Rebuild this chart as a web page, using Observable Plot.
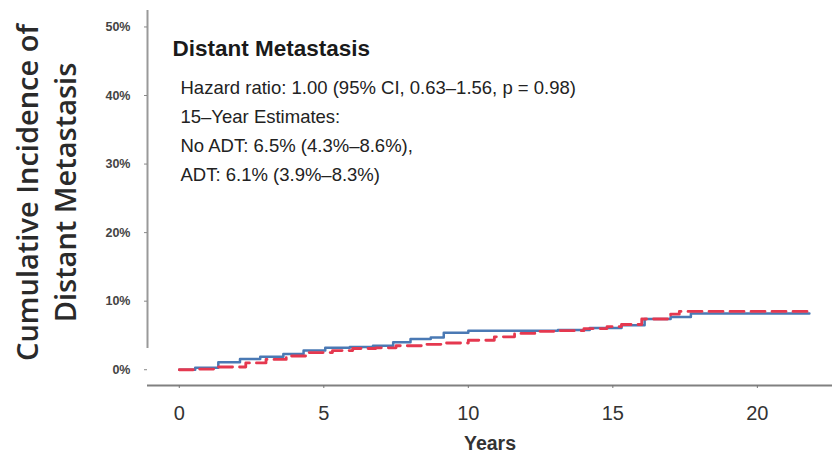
<!DOCTYPE html>
<html>
<head>
<meta charset="utf-8">
<script src="https://cdn.jsdelivr.net/npm/d3@7"></script>
<script src="https://cdn.jsdelivr.net/npm/@observablehq/plot@0.6"></script>
<style>
  html, body { margin: 0; padding: 0; background: #fff; }
</style>
</head>
<body>
<div id="chart"></div>
<script>
// Cumulative incidence of distant metastasis (%), step functions by arm
const noAdtYears = [0, 0.55, 1.35, 2.1, 2.8, 3.6, 4.3, 5.05, 5.9, 6.7, 7.4, 8.0, 8.7, 9.15, 10.0, 13.1, 14.2, 15.3, 16.1, 17.0, 17.7, 21.8];
const noAdtPct   = [0, 0.3, 1.1, 1.55, 1.9, 2.3, 2.8, 3.2, 3.3, 3.5, 4.0, 4.5, 4.7, 5.4, 5.7, 5.8, 6.1, 6.5, 7.4, 7.7, 8.2, 8.2];

const adtYears = [0, 0.7, 1.3, 2.3, 3.0, 3.7, 4.4, 5.3, 6.0, 6.8, 7.5, 8.5, 9.1, 10.0, 10.9, 11.6, 12.3, 13.0, 14.0, 14.8, 15.3, 16.0, 17.0, 17.3, 21.8];
const adtPct   = [0, 0.1, 0.4, 1.0, 1.5, 2.0, 2.5, 2.8, 3.1, 3.2, 3.5, 3.7, 3.9, 4.3, 4.8, 5.3, 5.6, 5.7, 6.0, 6.3, 6.6, 7.4, 8.1, 8.5, 8.5];

const xTicks = [0, 5, 10, 15, 20];
const yTicks = [0, 10, 20, 30, 40, 50];

const title = "Distant Metastasis";
const statLines = [
  "Hazard ratio: 1.00 (95% CI, 0.63\u20131.56, p = 0.98)",
  "15\u2013Year Estimates:",
  "No ADT: 6.5% (4.3%\u20138.6%),",
  "ADT: 6.1% (3.9%\u20138.3%)"
];
const yTitle = ["Cumulative Incidence of", "Distant Metastasis"];
const xTitle = "Years";

const noAdt = noAdtYears.map((t, i) => ({t, v: noAdtPct[i]}));
const adt = adtYears.map((t, i) => ({t, v: adtPct[i]}));

const xDomain = [-1.1, 22.6];
const yDomain = [-2.3, 52.4];

const chart = Plot.plot({
  width: 832,
  height: 453,
  marginLeft: 147,
  marginRight: 0,
  marginTop: 10,
  marginBottom: 68,
  style: {background: "#fff", fontFamily: "'Liberation Sans', Arial, sans-serif"},
  x: {domain: xDomain},
  y: {domain: yDomain},
  marks: [
    // axis lines
    Plot.ruleY([yDomain[0]], {stroke: "#808080", strokeWidth: 2.2}),
    Plot.ruleX([xDomain[0]], {y1: 3.1, y2: yDomain[1], stroke: "#999", strokeWidth: 2}),
    Plot.axisX({
      ticks: xTicks, tickSize: 3, tickPadding: 17, stroke: "#777",
      fontSize: 20, fill: "#333", label: null
    }),
    Plot.axisY({
      ticks: yTicks, tickSize: 3, tickPadding: 14, stroke: "#888",
      tickFormat: d => d + "%", fontSize: 12.5, fontWeight: "bold", fill: "#444", label: null
    }),
    // curves
    Plot.line(noAdt, {x: "t", y: "v", curve: "step-after", stroke: "#4a79b4", strokeWidth: 2.5}),
    Plot.line(adt, {x: "t", y: "v", curve: "step-after", stroke: "#e5384f", strokeWidth: 2.8, strokeDasharray: "14,7"}),
    // annotations
    Plot.text([title], {
      frameAnchor: "top-left", dx: 25, dy: 38, lineAnchor: "middle", textAnchor: "start",
      fontSize: 22.5, fontWeight: "bold", fill: "#1a1a1a"
    }),
    Plot.text([statLines.join("\n")], {
      frameAnchor: "top-left", dx: 33, dy: 63, lineAnchor: "top", textAnchor: "start",
      fontSize: 18.5, lineHeight: 1.57, fill: "#222"
    }),
    Plot.text([xTitle], {
      frameAnchor: "bottom", dx: 0, dy: 58, lineAnchor: "middle",
      fontSize: 19.5, fontWeight: "bold", fill: "#333"
    }),
    Plot.text([yTitle.join("\n")], {
      frameAnchor: "left", dx: -103, dy: -5.5, rotate: -90, lineAnchor: "middle", textAnchor: "middle",
      fontSize: 29, fontWeight: 600, lineHeight: 1.31, fill: "#2a2a2a", fontFamily: "'Open Sans', sans-serif"
    })
  ]
});

document.getElementById("chart").appendChild(chart);
</script>
</body>
</html>
